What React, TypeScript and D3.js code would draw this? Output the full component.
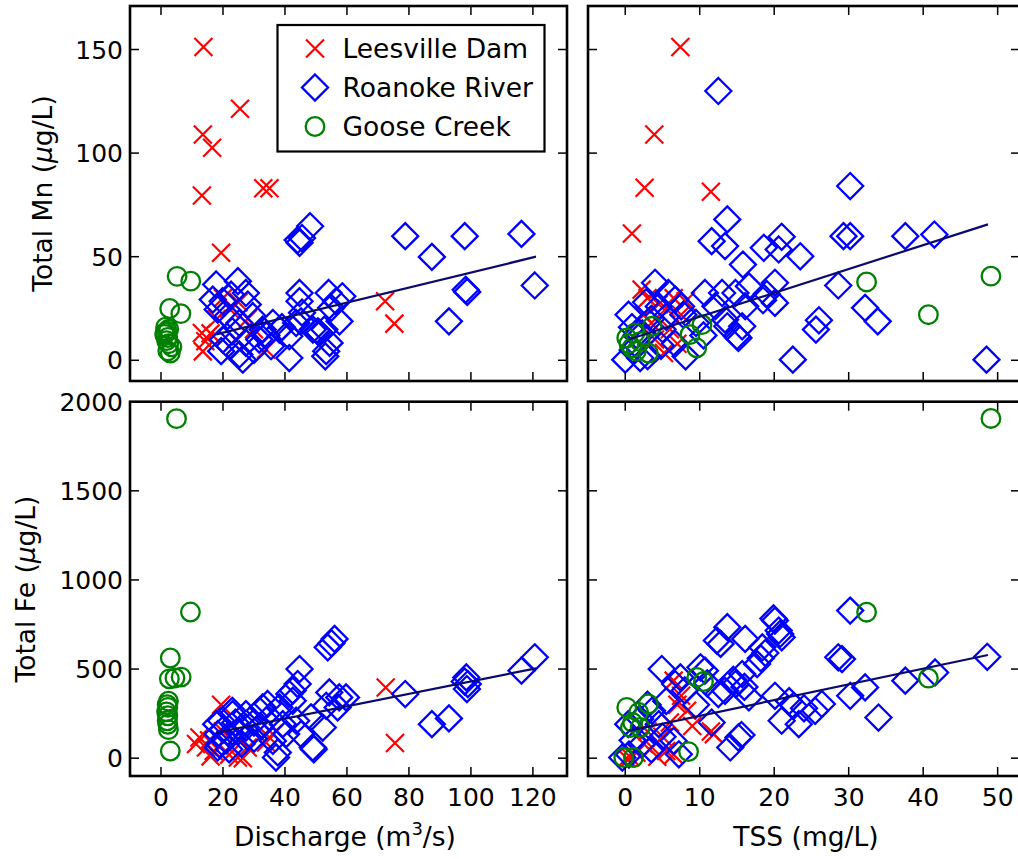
import React from "react";
import * as d3 from "d3";

type P = [number, number];

// ---- tick values ----
const dischargeTicks = [0, 20, 40, 60, 80, 100, 120];
const tssTicks = [0, 10, 20, 30, 40, 50];
const mnTicks = [0, 50, 100, 150];
const feTicks = [0, 500, 1000, 1500, 2000];

const seriesNames = ["Leesville Dam", "Roanoke River", "Goose Creek"];

// ---- Total Mn vs Discharge ----
const leesDischargeMn: P[] = [
  [13.7, 151.2], [13.5, 109], [16.5, 102.6], [25.5, 121.4], [13.2, 79.5], [33, 83], [35, 83],
  [19.4, 51.9], [72.3, 28.5], [75.3, 17.7], [13.2, 13.2], [14.3, 9.2], [13.5, 4.3], [33.9, 5.2],
  [20, 30], [22, 25], [25, 28], [18, 20], [30, 15], [24, 10], [16, 13], [28, 20],
];
const roanDischargeMn: P[] = [
  [44.1, 58], [44.7, 56.7], [48.1, 64.7], [45.5, 59], [78.8, 59.9], [87.4, 49.9], [98, 59.9],
  [116.3, 61], [98.8, 33], [98.3, 34], [120.6, 36.1], [92.9, 18.8], [41.4, 1.1], [53, 1.9],
  [44.7, 32.5], [44.7, 28.5], [45.5, 23], [54.1, 32.5], [58.5, 30.9], [56.5, 28.5], [57.6, 18.8],
  [52.7, 14.8], [50.6, 14], [54.4, 8.4], [38.2, 14.8], [45.2, 18.8], [17.8, 36.6], [24.8, 38.2],
  [16.7, 29.3], [19.9, 28.5], [22.6, 31.7], [28, 26.9], [27.4, 32.5], [18.3, 24.5], [21.5, 21.3],
  [25.3, 18], [29.6, 21.3], [32.8, 14.8], [36.1, 18], [41.4, 11.6], [49, 14.8], [54.9, 25.3],
  [51.1, 13.2], [53.3, 4.4], [19.4, 4.4], [22.1, 6.8], [25.3, 2.8], [26.4, 0.3], [27.4, 8.4],
  [31.7, 10], [35.5, 6.8], [20, 10], [23, 14], [30, 5], [34, 12], [39, 16], [43.6, 18],
];
const gooseDischargeMn: P[] = [
  [5.2, 40.5], [9.6, 38.2], [2.8, 25], [6.4, 22.5], [1.5, 16], [2, 14], [1.2, 12.5], [2.2, 11],
  [1.8, 9.5], [2.5, 8], [3.5, 6.5], [2.2, 4.5], [3, 3.5], [1.3, 13.5], [2.5, 15],
];
const fitDischargeMn: P[] = [[17.8, 12.5], [121, 50]];

// ---- Total Mn vs TSS ----
const leesTssMn: P[] = [
  [7.4, 151.2], [3.9, 109], [2.6, 83.3], [11.5, 81.3], [0.9, 61.2], [2.2, 34.1], [8.1, 28.5],
  [3, 30], [4.5, 27], [5.5, 25], [6.5, 30], [7.5, 22], [3.5, 18], [5.2, 3.5], [4, 10], [6, 15],
  [2.5, 22], [7, 8],
];
const roanTssMn: P[] = [
  [12.5, 130], [30.2, 84.1], [13.7, 68], [11.6, 57.5], [13.4, 55.1], [18.6, 54.3], [21, 59.6],
  [20.6, 53.5], [23.5, 50.2], [29.3, 59.9], [30.2, 59.9], [37.6, 59.9], [41.5, 60.7], [15.8, 46.2],
  [28.6, 36.1], [32.2, 25.3], [33.9, 18.8], [26, 19.3], [25.6, 14.8], [22.5, 0.3], [48.5, 0.3],
  [20.1, 37.4], [20.1, 27.7], [19, 32], [10.7, 32.5], [13, 32.5], [14.8, 32.5], [16.6, 35.7],
  [16.1, 26.1], [18.5, 29], [13.4, 19.6], [15.7, 16.4], [15.2, 10.8], [12.1, 26.1], [8.1, 1.9],
  [0.45, 22], [0.9, 16], [0, 0.3], [2, 1.1], [4, 37.4], [5.8, 32.5], [4.5, 26], [6.7, 29.3],
  [7.5, 26], [3, 2], [4.8, 7], [6.7, 8], [2.3, 13], [3.5, 20], [5, 15], [1.5, 12], [2.8, 28],
  [7.8, 22], [9.5, 18], [10.5, 12], [1, 5], [5.5, 21], [13.7, 16.4], [15, 11.6],
];
const gooseTssMn: P[] = [
  [32.4, 37.8], [49.1, 40.6], [40.7, 22], [10.3, 17.2], [8.7, 12.4], [9.6, 6], [0.2, 10.8],
  [1.3, 13.2], [3.6, 16.4], [0.9, 6], [3.1, 3.5], [2, 9], [1.5, 4.5], [0.5, 8],
];
const fitTssMn: P[] = [[0.45, 10], [48.7, 65.6]];

// ---- Total Fe vs Discharge ----
const leesDischargeFe: P[] = [
  [12.4, 116], [11.3, 79], [14.5, 60], [19.4, 300], [17, 40], [22, 20], [24.8, 3.6], [26.4, 0],
  [33.9, 88], [36.1, 135], [35, 116], [72.5, 397], [75.5, 85], [15.5, 100], [20, 150], [28, 60],
  [16, 10],
];
const roanDischargeFe: P[] = [
  [120.6, 566], [116.3, 491], [98.5, 453], [99, 416], [98, 430], [98.7, 388], [78.8, 360],
  [87.4, 191], [92.9, 223], [56, 669], [53.8, 622], [55, 645], [44.7, 500], [44.1, 416],
  [42.5, 379], [42.5, 322], [54.3, 369], [57.5, 341], [53.3, 294], [48.4, 229], [52.2, 172],
  [49, 60], [37.1, 3.6], [36.1, 97], [40.4, 135], [43.6, 210], [38.2, 285], [32.8, 285],
  [27.4, 247], [19.4, 210], [18.3, 135], [18.3, 60], [23, 266], [17.8, 191], [23.1, 247],
  [21, 100], [25, 150], [28, 120], [30, 200], [34.4, 304], [41.4, 360], [45.2, 135], [37.7, 32],
  [49.3, 50], [59.7, 341], [57, 285], [22, 50], [26, 80], [30, 110], [20, 160], [24, 200],
  [32, 180], [35, 230], [18.8, 78], [22.1, 134], [31.8, 266], [27.4, 172], [39.3, 191],
];
const gooseDischargeFe: P[] = [
  [5, 1905], [9.5, 820], [3, 562], [2.7, 445], [4.5, 450], [6.5, 455], [2.4, 320], [2, 300],
  [2.2, 285], [1.8, 260], [2.2, 238], [2, 210], [2.2, 190], [2.4, 160], [3, 40],
];
const fitDischargeFe: P[] = [[17.8, 144], [121, 504]];

// ---- Total Fe vs TSS ----
const leesTssFe: P[] = [
  [11.5, 150], [11.9, 135], [6.5, 435], [8.3, 266], [3.6, 60], [4.3, 8], [0.7, 5], [0.2, 0],
  [1.5, 30], [2.5, 80], [5, 120], [6, 200], [7, 300], [7.5, 350], [9, 180], [5.5, 40], [3, 150],
  [6.5, 20],
];
const roanTssFe: P[] = [
  [30.2, 828], [20.1, 772], [20.6, 716], [21, 678], [13.7, 735], [12.3, 660], [16.1, 669],
  [18.4, 622], [18.8, 590], [17.7, 528], [18.2, 560], [28.6, 566], [29.1, 556], [48.6, 569],
  [41.6, 481], [37.6, 435], [32.2, 397], [30.2, 350], [34, 228], [26.4, 304], [25.5, 266],
  [22.6, 294], [21, 210], [23.3, 191], [20.1, 350], [15.2, 116], [14.1, 60], [15.6, 130],
  [11.6, 200], [4.9, 500], [14.8, 416], [13.4, 378], [15.7, 472], [10.7, 491], [12.5, 360],
  [16.6, 341], [-0.4, 3.6], [0.4, 191], [3.6, 266], [4.5, 191], [6.7, 416], [7.2, 22], [2.2, 78],
  [3.5, 50], [5, 120], [1, 100], [2, 220], [3, 300], [5.5, 320], [8, 380], [9.5, 300], [11, 420],
  [14.5, 440], [16, 400], [22, 320], [24, 280], [0.5, 20], [7.4, 453], [10.1, 510], [12.8, 641],
  [19.9, 784], [20.8, 697], [6.5, 97],
];
const gooseTssFe: P[] = [
  [49.1, 1906], [32.4, 819], [40.7, 449], [9.6, 453], [10.5, 430], [8.5, 37], [0.2, 285],
  [1.8, 257], [3.1, 304], [0.7, 172], [2, 172], [-0.2, 3.6], [1.1, 3.6], [1, 200],
];
const fitTssFe: P[] = [[0.45, 153], [48.7, 579]];

// ---- scales ----
const xDis = d3.scaleLinear().domain([-10, 131]).range([130, 567]);
const xTss = d3.scaleLinear().domain([-5, 53]).range([588, 1020]);
const yMn = d3.scaleLinear().domain([-10, 171]).range([381, 6]);
const yFe = d3.scaleLinear().domain([-100, 2000]).range([776, 401.7]);

const RED = "#ff0000";
const BLUE = "#0000ff";
const GREEN = "#008000";
const FIT = "#0a0a6e";
const FONT = "DejaVu Sans, Verdana, sans-serif";
const FS = 25;
const FS_LABEL = 26.5;

const XMark = ({ x, y }: { x: number; y: number }) => (
  <path d={`M${x - 9},${y - 9}L${x + 9},${y + 9}M${x - 9},${y + 9}L${x + 9},${y - 9}`} stroke={RED} strokeWidth={2.2} fill="none" />
);
const DMark = ({ x, y }: { x: number; y: number }) => (
  <path d={`M${x},${y - 13}L${x + 13},${y}L${x},${y + 13}L${x - 13},${y}Z`} stroke={BLUE} strokeWidth={2.3} fill="none" />
);
const OMark = ({ x, y }: { x: number; y: number }) => (
  <circle cx={x} cy={y} r={9.3} stroke={GREEN} strokeWidth={2.3} fill="none" />
);

type PanelProps = {
  id: string;
  xs: d3.ScaleLinear<number, number>;
  ys: d3.ScaleLinear<number, number>;
  xTicks: number[];
  yTicks: number[];
  lees: P[];
  roan: P[];
  goose: P[];
  fit: P[];
  showX: boolean;
  showY: boolean;
};

function Panel({ id, xs, ys, xTicks, yTicks, lees, roan, goose, fit, showX, showY }: PanelProps) {
  const [x0, x1] = xs.range();
  const [y0, y1] = ys.range(); // y0 bottom, y1 top
  const line = d3.line<P>().x((d) => xs(d[0])).y((d) => ys(d[1]));
  const TL = 9;
  return (
    <g>
      <defs>
        <clipPath id={id}>
          <rect x={x0} y={y1} width={x1 - x0} height={y0 - y1} />
        </clipPath>
      </defs>
      <g clipPath={`url(#${id})`}>
        {lees.map((d, i) => <XMark key={"l" + i} x={xs(d[0])} y={ys(d[1])} />)}
        {roan.map((d, i) => <DMark key={"r" + i} x={xs(d[0])} y={ys(d[1])} />)}
        {goose.map((d, i) => <OMark key={"g" + i} x={xs(d[0])} y={ys(d[1])} />)}
        <path d={line(fit) || ""} stroke={FIT} strokeWidth={2.2} fill="none" />
      </g>
      {xTicks.map((t) => (
        <g key={"xt" + t}>
          <line x1={xs(t)} x2={xs(t)} y1={y0} y2={y0 - TL} stroke="#000" strokeWidth={1.5} />
          <line x1={xs(t)} x2={xs(t)} y1={y1} y2={y1 + TL} stroke="#000" strokeWidth={1.5} />
          {showX && (
            <text x={xs(t)} y={y0 + 30} textAnchor="middle" fontFamily={FONT} fontSize={FS}>{t}</text>
          )}
        </g>
      ))}
      {yTicks.map((t) => (
        <g key={"yt" + t}>
          <line x1={x0} x2={x0 + TL} y1={ys(t)} y2={ys(t)} stroke="#000" strokeWidth={1.5} />
          <line x1={x1} x2={x1 - TL} y1={ys(t)} y2={ys(t)} stroke="#000" strokeWidth={1.5} />
          {showY && (
            <text x={x0 - 7} y={ys(t) + 9} textAnchor="end" fontFamily={FONT} fontSize={FS}>{t}</text>
          )}
        </g>
      ))}
      <rect x={x0} y={y1} width={x1 - x0} height={y0 - y1} fill="none" stroke="#000" strokeWidth={2.6} />
    </g>
  );
}

export default function App() {
  const legendRows = [48.5, 87.5, 126.5];
  return (
    <svg width={1018} height={859} style={{ position: "absolute", left: 0, top: 0, background: "#fff" }}>
      <rect x={0} y={0} width={1018} height={859} fill="#fff" />
      <Panel id="c1" xs={xDis} ys={yMn} xTicks={dischargeTicks} yTicks={mnTicks} lees={leesDischargeMn} roan={roanDischargeMn} goose={gooseDischargeMn} fit={fitDischargeMn} showX={false} showY={true} />
      <Panel id="c2" xs={xTss} ys={yMn} xTicks={tssTicks} yTicks={mnTicks} lees={leesTssMn} roan={roanTssMn} goose={gooseTssMn} fit={fitTssMn} showX={false} showY={false} />
      <Panel id="c3" xs={xDis} ys={yFe} xTicks={dischargeTicks} yTicks={feTicks} lees={leesDischargeFe} roan={roanDischargeFe} goose={gooseDischargeFe} fit={fitDischargeFe} showX={true} showY={true} />
      <Panel id="c4" xs={xTss} ys={yFe} xTicks={tssTicks} yTicks={feTicks} lees={leesTssFe} roan={roanTssFe} goose={gooseTssFe} fit={fitTssFe} showX={true} showY={false} />

      {/* legend */}
      <g>
        <rect x={277.5} y={25} width={267} height={126.5} fill="#fff" stroke="#000" strokeWidth={2.2} />
        <XMark x={315} y={legendRows[0]} />
        <DMark x={315} y={legendRows[1]} />
        <OMark x={315} y={legendRows[2]} />
        {seriesNames.map((n, i) => (
          <text key={n} x={342.5} y={legendRows[i] + 9.5} fontFamily={FONT} fontSize={FS_LABEL}>{n}</text>
        ))}
      </g>

      {/* axis labels */}
      <text transform="translate(51.5,193.5) rotate(-90)" textAnchor="middle" fontFamily={FONT} fontSize={FS_LABEL}>
        Total Mn (<tspan fontStyle="italic">μ</tspan>g/L)
      </text>
      <text transform="translate(35,589) rotate(-90)" textAnchor="middle" fontFamily={FONT} fontSize={FS_LABEL}>
        Total Fe (<tspan fontStyle="italic">μ</tspan>g/L)
      </text>
      <text x={345} y={846} textAnchor="middle" fontFamily={FONT} fontSize={FS_LABEL}>
        Discharge (m<tspan fontSize={18} dy={-11}>3</tspan><tspan dy={11}>/s)</tspan>
      </text>
      <text x={806} y={846} textAnchor="middle" fontFamily={FONT} fontSize={FS_LABEL}>
        TSS (mg/L)
      </text>
    </svg>
  );
}
